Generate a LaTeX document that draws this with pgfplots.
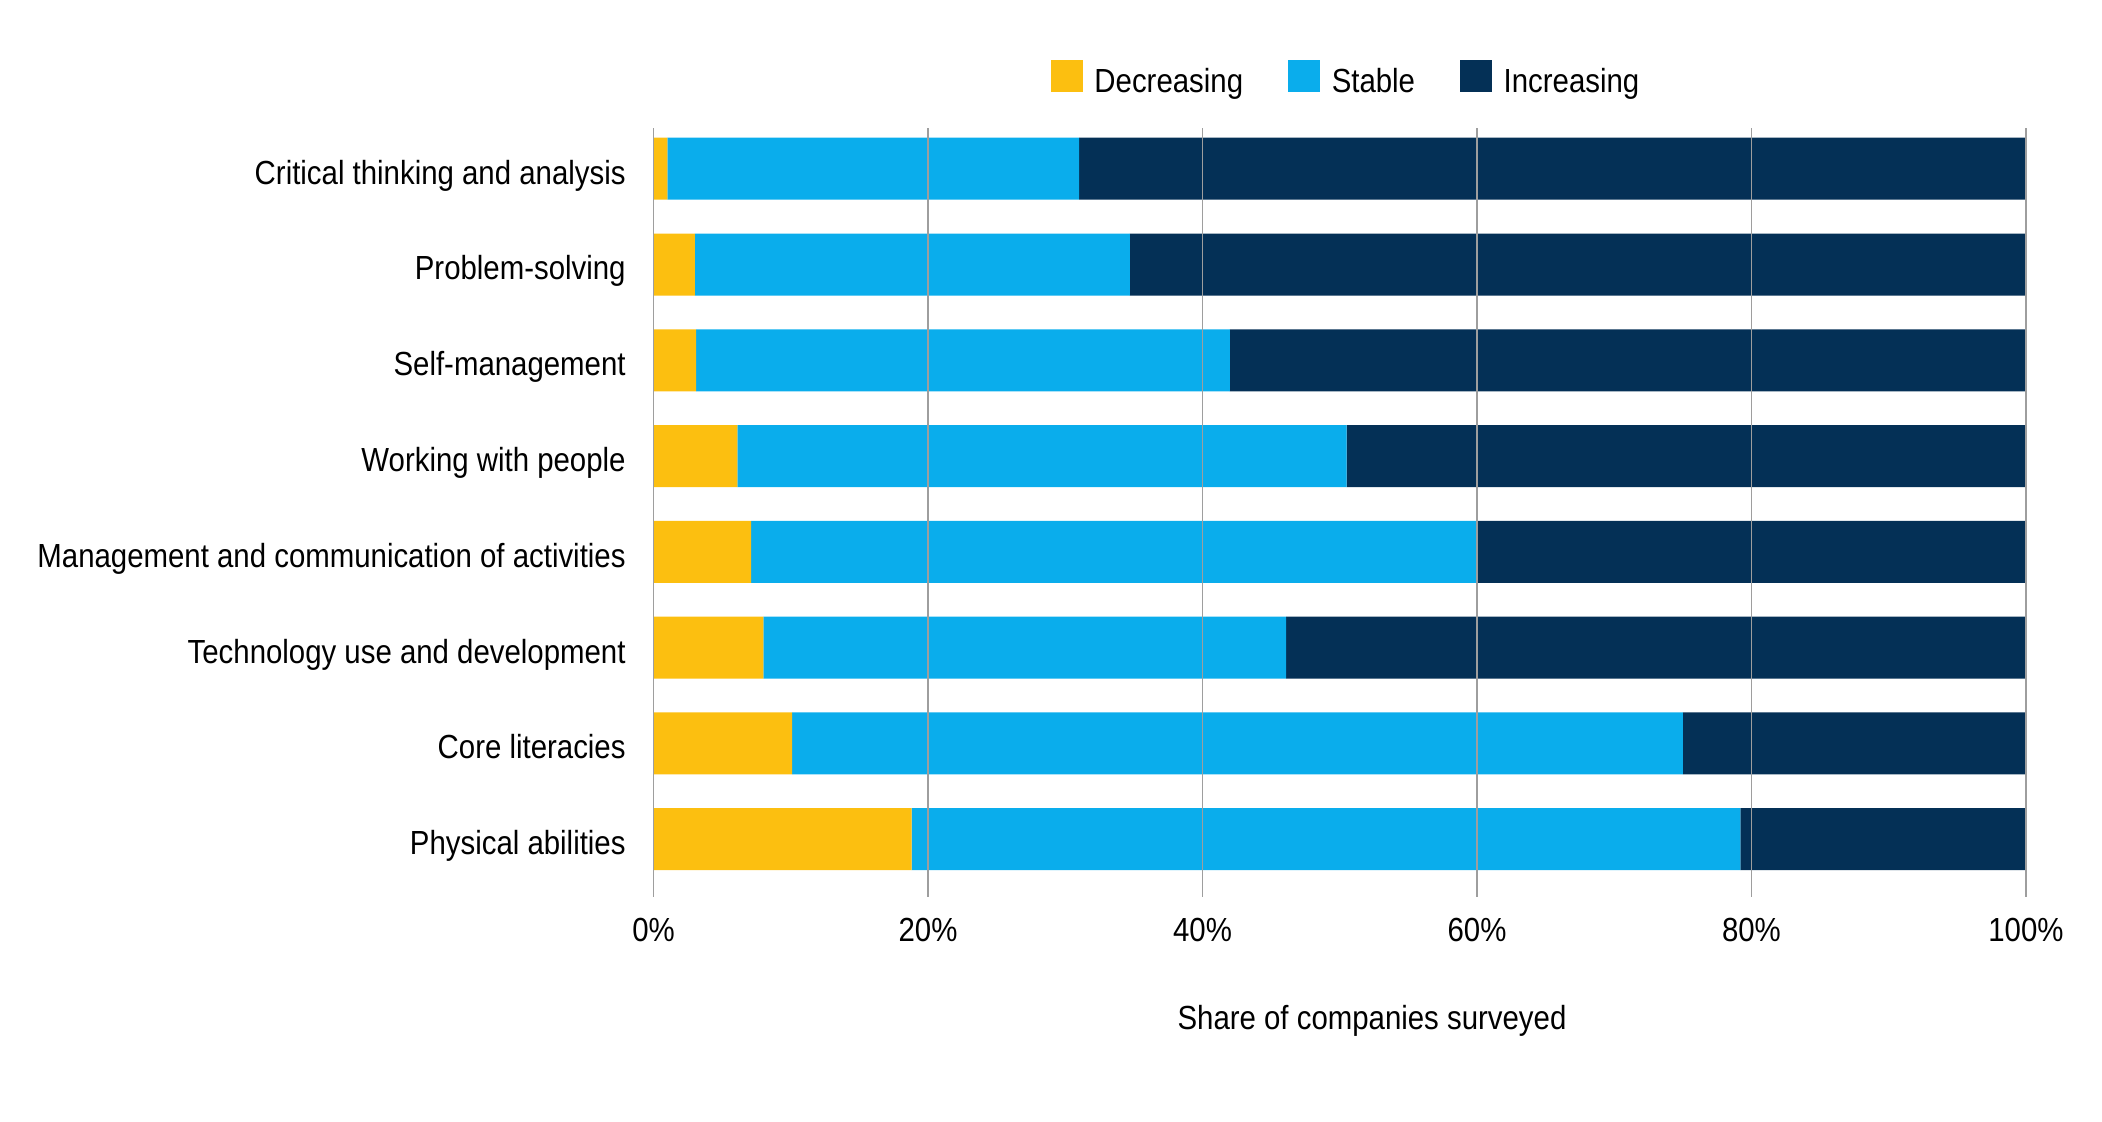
\documentclass[border=0pt]{standalone}
\usepackage{pgfplots}
\pgfplotsset{compat=1.18}
\usepackage{fontspec}
\setmainfont[FakeStretch=0.88]{Liberation Sans}
\newcommand\lbl{\fontsize{16.7pt}{19pt}\selectfont}

\definecolor{decr}{HTML}{FCBF10}
\definecolor{stab}{HTML}{0AADEC}
\definecolor{incr}{HTML}{043056}

% skills, top to bottom: decreasing, stable, increasing (share of companies, %)
\pgfplotstableread{
pos dec sta inc
1 1.0 30.0 69.0
2 3.0 31.7 65.3
3 3.1 38.9 58.0
4 6.1 44.4 49.5
5 7.1 52.9 40.0
6 8.0 38.1 53.9
7 10.1 64.9 25.0
8 18.8 60.4 20.8
}\skills

\begin{document}
\begin{tikzpicture}[font=\lbl]
\useasboundingbox (-326.8pt,-112.65pt) rectangle (724.2pt,448.35pt);
\begin{axis}[
    at={(0,0)}, anchor=south west,
    scale only axis,
    width=686.15pt, height=384.1pt,
    xbar stacked, bar width=31pt,
    xmin=0, xmax=100,
    ymin=0.58, ymax=8.6,
    y dir=reverse,
    xtick={0,20,...,100},
    xticklabel={\pgfmathprintnumber{\tick}\%},
    /pgf/number format/assume math mode=true,
    ytick={1,...,8},
    yticklabels={Critical thinking and analysis, Problem-solving, Self-management,
        Working with people, Management and communication of activities,
        Technology use and development, Core literacies, Physical abilities},
    major tick length=0pt,
    axis line style={draw=none},
    xmajorgrids,
    grid style={color=black!38, line width=0.6pt},
    axis on top,
    yticklabel style={anchor=base east, inner sep=0pt, xshift=-13.8pt, yshift=-7.7pt},
    xticklabel style={anchor=base, inner sep=0pt, yshift=-22.5pt},
    xlabel={Share of companies surveyed},
    xlabel style={at={(rel axis cs:0.5235,0)}, anchor=base, inner sep=0pt, yshift=-66.6pt},
    legend columns=3,
    legend style={at={(rel axis cs:0.2895,1)}, anchor=south west, yshift=16.5pt,
        draw=none, inner sep=0pt, outer sep=0pt,
        nodes={inner sep=0pt, anchor=base west},
        /tikz/every odd column/.append style={column sep=5.8pt},
        /tikz/every even column/.append style={column sep=22.5pt}},
    legend image code/.code={\fill[#1] (0pt,0pt) rectangle (16pt,16pt);},
]
\addplot[fill=decr, draw=none] table[x=dec, y=pos] {\skills};
\addplot[fill=stab, draw=none] table[x=sta, y=pos] {\skills};
\addplot[fill=incr, draw=none] table[x=inc, y=pos] {\skills};
\legend{Decreasing, Stable, Increasing}
\end{axis}
\end{tikzpicture}
\end{document}
